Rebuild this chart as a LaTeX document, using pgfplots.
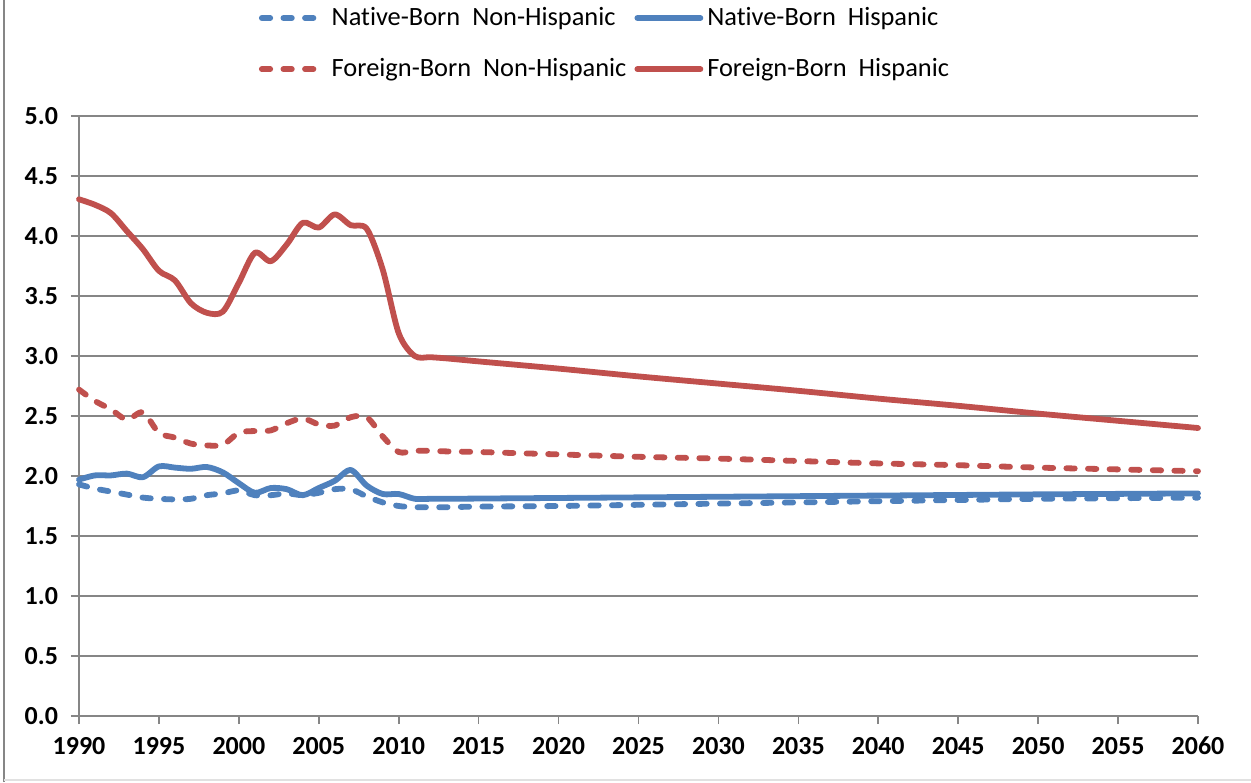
\documentclass[border=0pt]{standalone}
\usepackage{pgfplots}
\pgfplotsset{compat=1.18}
\usepackage{fontspec}
\setmainfont{Carlito}[Ligatures=NoCommon]
\definecolor{xblue}{HTML}{4F81BD}
\definecolor{xred}{HTML}{C0504D}
\definecolor{xgrid}{HTML}{868686}
\begin{document}
\begin{tikzpicture}[x=1pt,y=1pt]
\useasboundingbox (0,0) rectangle (625.5,391);
\draw[xgrid,line width=0.8pt] (2,0) -- (2,391);
\draw[xgrid!25,line width=0.6pt] (2,1) -- (625.5,1);
\begin{axis}[
  at={(39.5pt,33pt)}, anchor=south west,
  scale only axis, width=559.5pt, height=300pt,
  xmin=1990, xmax=2060, ymin=0, ymax=5,
  xtick={1990,1995,...,2060}, ytick={0,0.5,...,5},
  minor tick num=0,
  tick style={xgrid, line width=0.8pt},
  tick align=outside, major tick length=4pt,
  axis line style={xgrid, line width=0.8pt},
  axis x line*=bottom, axis y line*=left,
  ymajorgrids, grid style={xgrid, line width=0.8pt},
  every tick label/.append style={font=\fontsize{13}{15}\selectfont\bfseries, text=black},
  /pgf/number format/assume math mode=true,
  xticklabel style={/pgf/number format/1000 sep={}, yshift=-3pt},
  x tick label style={/pgf/number format/1000 sep={}},
  yticklabel style={/pgf/number format/.cd, fixed, fixed zerofill, precision=1, /tikz/.cd, xshift=-3pt},
  clip=false,
  legend columns=2,
  legend style={at={(0.471,1.1207)}, anchor=center, draw=none, fill=none,
    font=\fontsize{13.2}{15}\selectfont, row sep=11pt,
    /tikz/every even column/.append style={column sep=2pt}},
  legend cell align=left,
  legend image code/.code={\draw[#1] (0pt,0pt) -- (31.5pt,0pt);},
  every axis plot/.append style={line width=2.9pt, smooth, tension=0.5, line cap=round, line join=round},
]
\addplot[xblue, dash pattern=on 4.2pt off 6.6pt] coordinates {
(1990,1.93) (1991,1.895) (1992,1.87) (1993,1.845) (1994,1.82) (1995,1.81) (1996,1.805)
(1997,1.81) (1998,1.84) (1999,1.855) (2000,1.88) (2001,1.84) (2002,1.84) (2003,1.855)
(2004,1.84) (2005,1.86) (2006,1.89) (2007,1.89) (2008,1.83) (2009,1.78) (2010,1.75)
(2011,1.74) (2012,1.74) (2013,1.74) (2015,1.745) (2020,1.75) (2025,1.76) (2030,1.77)
(2035,1.78) (2040,1.79) (2045,1.80) (2050,1.81) (2055,1.815) (2060,1.82)};
\addlegendentry{Native-Born~ Non-Hispanic}
\addplot[xblue] coordinates {
(1990,1.97) (1991,2.005) (1992,2.005) (1993,2.02) (1994,1.99) (1995,2.08) (1996,2.07)
(1997,2.06) (1998,2.075) (1999,2.03) (2000,1.94) (2001,1.86) (2002,1.90) (2003,1.89)
(2004,1.84) (2005,1.90) (2006,1.96) (2007,2.05) (2008,1.92) (2009,1.85) (2010,1.85)
(2011,1.81) (2012,1.81) (2013,1.81) (2015,1.812) (2020,1.817) (2025,1.822) (2030,1.827)
(2035,1.832) (2040,1.837) (2045,1.842) (2050,1.847) (2055,1.851) (2060,1.855)};
\addlegendentry{Native-Born~ Hispanic}
\addplot[xred, dash pattern=on 4.2pt off 6.6pt] coordinates {
(1990,2.72) (1991,2.625) (1992,2.555) (1993,2.47) (1994,2.53) (1995,2.36) (1996,2.32)
(1997,2.27) (1998,2.255) (1999,2.26) (2000,2.36) (2001,2.375) (2002,2.38) (2003,2.44)
(2004,2.48) (2005,2.43) (2006,2.42) (2007,2.49) (2008,2.49) (2009,2.33) (2010,2.20)
(2011,2.21) (2012,2.21) (2013,2.205) (2015,2.20) (2020,2.18) (2025,2.16) (2030,2.145)
(2035,2.125) (2040,2.105) (2045,2.09) (2050,2.07) (2055,2.055) (2060,2.04)};
\addlegendentry{Foreign-Born~ Non-Hispanic}
\addplot[xred] coordinates {
(1990,4.306) (1991,4.26) (1992,4.19) (1993,4.04) (1994,3.89) (1995,3.71) (1996,3.63)
(1997,3.44) (1998,3.36) (1999,3.37) (2000,3.61) (2001,3.86) (2002,3.79) (2003,3.93)
(2004,4.11) (2005,4.07) (2006,4.18) (2007,4.09) (2008,4.06) (2009,3.72) (2010,3.19)
(2011,3.0) (2012,2.99) (2013,2.98) (2015,2.955) (2020,2.895) (2025,2.83) (2030,2.77)
(2035,2.71) (2040,2.645) (2045,2.585) (2050,2.52) (2055,2.46) (2060,2.40)};
\addlegendentry{Foreign-Born~ Hispanic}
\end{axis}
\end{tikzpicture}
\end{document}
